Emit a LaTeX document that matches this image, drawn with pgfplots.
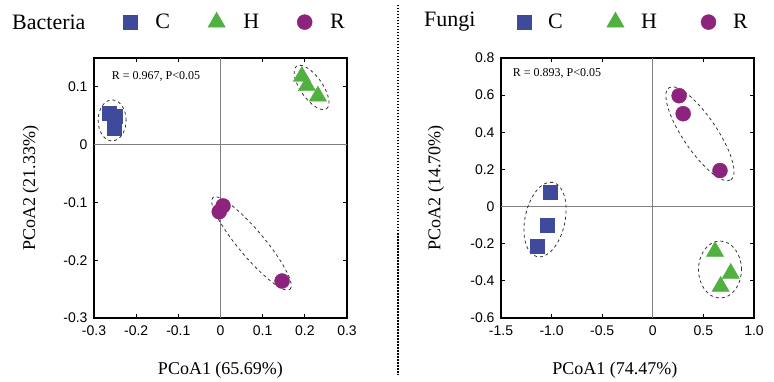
\documentclass[border=0pt]{standalone}
\usepackage{fontspec}
\setmainfont{Liberation Serif}
\newfontfamily\sansf{Liberation Sans}
\usepackage{pgfplots}
\pgfplotsset{compat=1.18}
\usetikzlibrary{shapes.geometric}
\definecolor{cC}{RGB}{63,74,154}
\definecolor{cH}{RGB}{80,176,64}
\definecolor{cR}{RGB}{140,35,125}

\tikzset{ell/.style={draw=black!80, dashed, line width=0.8pt, ellipse, inner sep=0pt}}
\pgfplotsset{
 pcoa/.style={
  scale only axis, width=253pt, height=260pt,
  axis line style={line width=1.4pt},
  tick align=inside, major tick length=4pt,
  tick style={black, line width=0.8pt},
  /pgf/number format/assume math mode=true,
  tick label style={font=\sansf\fontsize{14}{16}\selectfont},
  xticklabel style={yshift=-4pt},
  yticklabel style={xshift=-3pt},
  label style={font=\fontsize{18}{20}\selectfont},
  xlabel style={at={(axis description cs:0.5,-0.2)}, anchor=center},
  ylabel style={at={(axis description cs:-0.25,0.5)}, anchor=center},
  legend style={draw=none, fill=none, font=\fontsize{22}{24}\selectfont,
     legend columns=3, anchor=west, inner sep=0pt,
     /tikz/every odd column/.style={column sep=16pt},
     /tikz/every even column/.style={column sep=36pt}},
  legend image code/.code={\draw[#1, mark repeat=2, mark phase=2] plot coordinates {(-8pt,0pt) (0pt,0pt) (8pt,0pt)};},
  legend cell align=left,
 },
 mC/.style={only marks, mark=square*, mark size=7pt, color=cC},
 mH/.style={only marks, mark=triangle*, mark size=10pt, color=cH},
 mR/.style={only marks, mark=*, mark size=7.5pt, color=cR},
}

\begin{document}
\begin{tikzpicture}[x=1pt,y=1pt]
\path (0,0) rectangle (774,380);
% divider
\draw[black, line width=1.4pt, dash pattern=on 1.5pt off 1.5pt] (398,375) -- (398,5);
\node[anchor=west, font=\fontsize{22}{24}\selectfont, inner sep=0pt] at (12,358) {Bacteria};
\node[anchor=west, font=\fontsize{22}{24}\selectfont, inner sep=0pt] at (424,358) {Fungi};

\begin{axis}[pcoa, at={(94pt,62pt)}, anchor=south west,
  xmin=-0.3, xmax=0.3, ymin=-0.3, ymax=0.15,
  xtick={-0.3,-0.2,-0.1,0,0.1,0.2,0.3},
  xticklabels={-0.3,-0.2,-0.1,0,0.1,0.2,0.3},
  ytick={-0.3,-0.2,-0.1,0,0.1},
  yticklabels={-0.3,-0.2,-0.1,0,0.1},
  xlabel={PCoA1 (65.69\%)}, ylabel={PCoA2 (21.33\%)},
  legend style={at={(axis description cs:0.115,1.138)}},
]
\draw[gray, line width=0.8pt] (axis cs:0,-0.3) -- (axis cs:0,0.15);
\draw[gray, line width=0.8pt] (axis cs:-0.3,0) -- (axis cs:0.3,0);
\addplot[mC] coordinates {(-0.265,0.054) (-0.25,0.05) (-0.252,0.028)};
\addplot[mH] coordinates {(0.193,0.118) (0.205,0.102) (0.231,0.084)};
\addplot[mR] coordinates {(0.006,-0.106) (-0.003,-0.116) (0.146,-0.236)};
\legend{C,H,R}
\node[ell, minimum width=28pt, minimum height=41pt] at (axis cs:-0.257,0.042) {};
\node[ell, minimum width=52pt, minimum height=22pt, rotate=-55] at (axis cs:0.216,0.099) {};
\node[ell, minimum width=120pt, minimum height=26pt, rotate=-50] at (axis cs:0.0735,-0.171) {};
\node[font=\fontsize{12}{14}\selectfont] at (axis description cs:0.245,0.93) {R = 0.967, P<0.05};
\end{axis}

\begin{axis}[pcoa, at={(501pt,62pt)}, anchor=south west,
  xmin=-1.5, xmax=1.0, ymin=-0.6, ymax=0.8,
  xtick={-1.5,-1.0,-0.5,0,0.5,1.0},
  xticklabels={-1.5,-1.0,-0.5,0,0.5,1.0},
  ytick={-0.6,-0.4,-0.2,0,0.2,0.4,0.6,0.8},
  yticklabels={-0.6,-0.4,-0.2,0,0.2,0.4,0.6,0.8},
  xlabel={PCoA1 (74.47\%)}, ylabel={PCoA2 (14.70\%)},
  xlabel style={at={(axis description cs:0.45,-0.2)}},
  ylabel style={at={(axis description cs:-0.257,0.5)}},
  legend style={at={(axis description cs:0.063,1.138)},
     /tikz/every odd column/.style={column sep=15pt},
     /tikz/every even column/.style={column sep=42pt}},
]
\draw[gray, line width=0.8pt] (axis cs:0,-0.6) -- (axis cs:0,0.8);
\draw[gray, line width=0.8pt] (axis cs:-1.5,0) -- (axis cs:1.0,0);
\addplot[mC] coordinates {(-1.016,0.075) (-1.045,-0.10) (-1.14,-0.215)};
\addplot[mH] coordinates {(0.615,-0.242) (0.77,-0.36) (0.67,-0.43)};
\addplot[mR] coordinates {(0.26,0.597) (0.30,0.50) (0.664,0.194)};
\legend{C,H,R}
\node[ell, minimum width=76pt, minimum height=40pt, rotate=78] at (axis cs:-1.065,-0.07) {};
\node[ell, minimum width=43pt, minimum height=57pt] at (axis cs:0.664,-0.339) {};
\node[ell, minimum width=111pt, minimum height=34pt, rotate=-56] at (axis cs:0.466,0.392) {};
\node[font=\fontsize{12}{14}\selectfont] at (axis description cs:0.221,0.94) {R = 0.893, P<0.05};
\end{axis}
\end{tikzpicture}
\end{document}
